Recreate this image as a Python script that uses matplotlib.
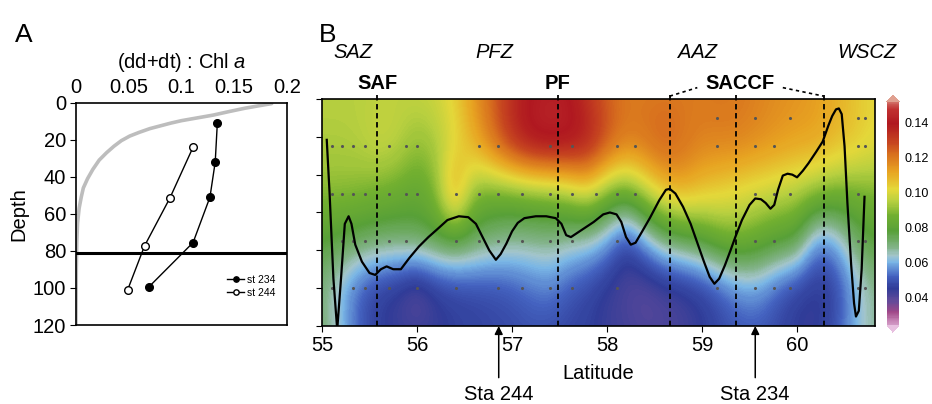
import numpy as np
import matplotlib
matplotlib.use("Agg")
import matplotlib.pyplot as plt
from matplotlib.colors import LinearSegmentedColormap, Normalize

plt.rcParams['font.family'] = ['Liberation Sans', 'DejaVu Sans']
plt.rcParams['mathtext.fontset'] = 'custom'
plt.rcParams['mathtext.rm'] = 'Liberation Sans'
plt.rcParams['mathtext.it'] = 'Liberation Sans:italic'

FS = 14.5

# ---- panel A: (dd+dt):Chl a profiles ----
st234_ratio = [0.134, 0.132, 0.127, 0.111, 0.069]
st234_depth = [11, 32, 51, 75.5, 99.5]
st244_ratio = [0.111, 0.089, 0.065, 0.049]
st244_depth = [24, 51.5, 77.3, 101]
gray_ratio = [0.1855, 0.175, 0.160, 0.145, 0.130, 0.115, 0.100, 0.090, 0.080, 0.070,
              0.060, 0.051, 0.043, 0.036, 0.029, 0.022, 0.016, 0.011, 0.007, 0.005,
              0.003, 0.0015, 0.0008, 0.0003, 0.0]
gray_depth = [0.5, 1.5, 3, 4.8, 6.7, 8.2, 9.7, 11, 12.5, 14,
              16, 18, 20.5, 23.5, 27, 31, 36, 41, 46, 51,
              57, 65, 75, 90, 120]
mixed_depth_a = 81

# ---- panel B: section along latitude ----
grid_lat = [55.0, 55.2, 55.4, 55.6, 55.8, 56.0, 56.2, 56.4, 56.6, 56.8,
            57.0, 57.2, 57.4, 57.6, 57.8, 58.0, 58.2, 58.4, 58.6, 58.8,
            59.0, 59.2, 59.4, 59.6, 59.8, 60.0, 60.2, 60.4, 60.6, 60.8]
grid_depth = [0, 25, 50, 75, 100, 125]
ratio_0 = [0.095, 0.095, 0.095, 0.096, 0.096, 0.097, 0.098, 0.104, 0.114, 0.124,
           0.134, 0.140, 0.142, 0.140, 0.132, 0.124, 0.120, 0.120, 0.120, 0.120,
           0.120, 0.121, 0.120, 0.118, 0.116, 0.115, 0.113, 0.110, 0.106, 0.102]
ratio_25 = [0.094, 0.094, 0.095, 0.098, 0.096, 0.090, 0.093, 0.100, 0.110, 0.122,
            0.135, 0.143, 0.145, 0.144, 0.140, 0.128, 0.120, 0.122, 0.126, 0.122,
            0.118, 0.118, 0.118, 0.116, 0.114, 0.112, 0.112, 0.108, 0.106, 0.102]
ratio_50 = [0.090, 0.090, 0.089, 0.087, 0.085, 0.082, 0.088, 0.118, 0.088, 0.085,
            0.085, 0.087, 0.088, 0.092, 0.100, 0.088, 0.083, 0.095, 0.106, 0.110,
            0.106, 0.103, 0.100, 0.098, 0.096, 0.094, 0.090, 0.087, 0.086, 0.088]
ratio_75 = [0.078, 0.076, 0.074, 0.072, 0.072, 0.074, 0.077, 0.078, 0.074, 0.070,
            0.068, 0.068, 0.069, 0.066, 0.064, 0.058, 0.045, 0.058, 0.070, 0.074,
            0.078, 0.086, 0.088, 0.084, 0.080, 0.078, 0.055, 0.058, 0.072, 0.078]
ratio_100 = [0.070, 0.060, 0.050, 0.045, 0.042, 0.036, 0.043, 0.046, 0.047, 0.048,
             0.050, 0.053, 0.055, 0.050, 0.047, 0.043, 0.041, 0.038, 0.040, 0.042,
             0.045, 0.050, 0.056, 0.057, 0.050, 0.045, 0.043, 0.046, 0.058, 0.068]
ratio_125 = [0.072, 0.062, 0.052, 0.046, 0.045, 0.045, 0.045, 0.046, 0.047, 0.048,
             0.048, 0.049, 0.048, 0.047, 0.046, 0.044, 0.043, 0.042, 0.042, 0.043,
             0.045, 0.048, 0.050, 0.050, 0.048, 0.045, 0.045, 0.050, 0.060, 0.068]

# black line in panel B
line_lat = [55.05, 55.08, 55.12, 55.16, 55.20, 55.24, 55.28, 55.31, 55.35, 55.42,
            55.50, 55.56, 55.62, 55.68, 55.75, 55.83, 55.92, 56.02, 56.12, 56.21,
            56.32, 56.44, 56.54, 56.62, 56.69, 56.76, 56.83, 56.88, 56.94, 57.00,
            57.06, 57.13, 57.25, 57.36, 57.46, 57.52, 57.57, 57.62, 57.71, 57.86,
            57.96, 58.03, 58.10, 58.15, 58.20, 58.25, 58.30, 58.37, 58.45, 58.55,
            58.62, 58.66, 58.72, 58.80, 58.88, 58.95, 59.02, 59.08, 59.13, 59.18,
            59.24, 59.30, 59.35, 59.42, 59.50, 59.56, 59.62, 59.67, 59.72, 59.76,
            59.80, 59.85, 59.90, 59.95, 60.00, 60.06, 60.12, 60.20, 60.27, 60.33,
            60.37, 60.41, 60.44, 60.47, 60.50, 60.53, 60.57, 60.60, 60.62, 60.65,
            60.68, 60.71]
line_depth = [21.6, 50, 95, 122, 95, 66, 62, 66, 77, 86,
              92, 93, 90, 88.5, 90, 90, 84, 78, 73, 69,
              64, 62, 62.5, 66, 73, 80, 85, 82, 76.5, 70,
              65.5, 63, 62, 62, 63, 66, 72, 73, 70, 65,
              61, 60, 61, 65, 73, 77, 76, 70, 63, 53.5,
              48, 47.5, 50, 57, 66, 76, 86, 94, 97.7, 95,
              88, 80, 73, 64, 56, 52.6, 53, 55, 58, 56,
              48, 40.5, 39.5, 40, 41.4, 38, 34, 28, 22.5, 14,
              9, 5.5, 5, 8, 25, 55, 88, 108, 115, 112,
              90, 51.7]

# sample points
dots_10 = [59.16, 59.56, 59.93, 60.64, 60.72]
dots_25 = [55.10, 55.21, 55.33, 55.45, 55.71, 55.88, 56.00, 56.65, 56.85, 57.40,
           57.63, 58.10, 58.29, 59.16, 59.56, 59.76, 60.64, 60.72]
dots_50 = [55.10, 55.21, 55.33, 55.45, 55.71, 55.88, 56.00, 56.41, 56.65, 56.85,
           57.11, 57.40, 57.63, 57.88, 58.10, 58.29, 59.56, 59.76, 59.93, 60.64]
dots_75 = [55.21, 55.33, 55.45, 55.71, 55.88, 56.41, 56.65, 56.85, 57.11, 57.40,
           57.63, 58.10, 59.56, 59.76, 60.64, 60.72]
dots_100 = [55.10, 55.33, 55.45, 55.71, 56.00, 56.41, 56.85, 57.11, 57.40, 57.63,
            58.10, 59.16, 59.56, 59.76, 59.93, 60.64, 60.72]

fronts = [55.58, 57.48, 58.66, 59.36, 60.28]
front_names = ['SAF', 'PF', 'SACCF']
front_label_lat = [55.58, 57.48, 59.40]
zones = ['SAZ', 'PFZ', 'AAZ', 'WSCZ']
zone_lat = [55.33, 56.81, 58.95, 60.73]
stations = ['Sta 244', 'Sta 234']
station_lat = [56.86, 59.56]

# colour scale
cb_vals = [0.020, 0.026, 0.031, 0.038, 0.045, 0.052, 0.060, 0.064, 0.068, 0.078,
           0.087, 0.095, 0.102, 0.112, 0.122, 0.130, 0.140, 0.148, 0.156]
cb_cols = ['#e8c0e0', '#c888b8', '#a04888', '#604a9a', '#303c98', '#4462c0', '#7ab6e6',
           '#a4c6cc', '#84b48c', '#58a038', '#72b030', '#b8d040', '#e4d83a', '#e8a422',
           '#d8701e', '#c44020', '#b01820', '#c03030', '#e0a090']
vmin, vmax = 0.024, 0.152
span = cb_vals[-1] - cb_vals[0]
base = LinearSegmentedColormap.from_list(
    'chl', [((v - cb_vals[0]) / span, c) for v, c in zip(cb_vals, cb_cols)])
cmap = LinearSegmentedColormap.from_list(
    'chl2', [base((v - cb_vals[0]) / span) for v in np.linspace(vmin, vmax, 256)])
cmap.set_under(base(0.0))
cmap.set_over(base(1.0))
norm = Normalize(vmin=vmin, vmax=vmax)

fig = plt.figure(figsize=(9.32, 4.04), dpi=100)

# ---------------- panel A ----------------
axA = fig.add_axes([0.0815, 0.1955, 0.2264, 0.5503])
axA.plot(gray_ratio, gray_depth, color='#bdbdbd', lw=2.6, zorder=1,
         solid_capstyle='round')
axA.axhline(mixed_depth_a, color='black', lw=2.2, zorder=2)
axA.plot(st234_ratio, st234_depth, '-o', color='black', mfc='black', mec='black',
         ms=5.5, lw=1, label='st 234', zorder=3)
axA.plot(st244_ratio, st244_depth, '-o', color='black', mfc='white', mec='black',
         ms=5.5, lw=1, label='st 244', zorder=3)
axA.set_xlim(0, 0.2)
axA.set_ylim(120, 0)
axA.xaxis.tick_top()
axA.xaxis.set_label_position('top')
axA.set_xticks([0, 0.05, 0.1, 0.15, 0.2])
axA.set_xticklabels(['0', '0.05', '0.1', '0.15', '0.2'])
axA.set_yticks([0, 20, 40, 60, 80, 100, 120])
axA.tick_params(axis='x', length=0, labelsize=FS, pad=4)
axA.tick_params(axis='y', direction='out', length=4, labelsize=FS, pad=3)
axA.set_xlabel('(dd+dt) : Chl $\\it{a}$', fontsize=FS, labelpad=7)
axA.set_ylabel('Depth', fontsize=FS, labelpad=3)
for s in axA.spines.values():
    s.set_linewidth(1.2)
axA.legend(loc='lower right', bbox_to_anchor=(0.99, 0.08), fontsize=7.5, frameon=False,
           handlelength=1.6, handletextpad=0.3, labelspacing=0.3, markerscale=0.7)

# ---------------- panel B ----------------
axB = fig.add_axes([0.3455, 0.1931, 0.5933, 0.5619])
field = np.array([ratio_0, ratio_25, ratio_50, ratio_75, ratio_100, ratio_125])
dlat = grid_lat[1] - grid_lat[0]
ddep = grid_depth[1] - grid_depth[0]
im = axB.imshow(field, cmap=cmap, norm=norm, aspect='auto',
                interpolation='bicubic', interpolation_stage='data',
                extent=[grid_lat[0] - dlat / 2, grid_lat[-1] + dlat / 2,
                        grid_depth[-1] + ddep / 2, grid_depth[0] - ddep / 2])
for dep, lats in zip([10, 25, 50, 75, 100], [dots_10, dots_25, dots_50, dots_75, dots_100]):
    axB.scatter(lats, [dep] * len(lats), s=1.5, color='#555555', zorder=2)
axB.plot(line_lat, line_depth, color='black', lw=1.6, zorder=4)
for f in fronts:
    axB.plot([f, f], [-2, 120], color='black', ls=(0, (3, 2)), lw=1.3,
             clip_on=False, zorder=5)
# SACCF bracket
axB.plot([fronts[2], 58.95], [-1.5, -6], color='black', ls=(0, (2, 2)), lw=1.2,
         clip_on=False)
axB.plot([59.85, fronts[4]], [-6, -1.5], color='black', ls=(0, (2, 2)), lw=1.2,
         clip_on=False)
for name, lat in zip(front_names, front_label_lat):
    axB.text(lat, 1.07, name, transform=axB.get_xaxis_transform(), ha='center',
             va='center', fontsize=FS, fontweight='bold')
for name, lat in zip(zones, zone_lat):
    axB.text(lat, 1.205, name, transform=axB.get_xaxis_transform(), ha='center',
             va='center', fontsize=FS, style='italic')
for name, lat in zip(stations, station_lat):
    axB.annotate(name, xy=(lat, 120), xycoords='data',
                 xytext=(lat, -0.30), textcoords=axB.get_xaxis_transform(),
                 ha='center', va='center', fontsize=FS,
                 arrowprops=dict(arrowstyle='-|>', color='black', lw=1.1,
                                 mutation_scale=12, shrinkA=3, shrinkB=0))
axB.set_xlim(55, 60.82)
axB.set_ylim(120, 0)
axB.set_xticks([55, 56, 57, 58, 59, 60])
axB.set_yticks([0, 20, 40, 60, 80, 100, 120])
axB.set_yticklabels([])
axB.tick_params(axis='both', direction='out', length=4, labelsize=FS)
axB.set_xlabel('Latitude', fontsize=FS, labelpad=6)
for s in axB.spines.values():
    s.set_linewidth(1.2)
    s.set_zorder(6)

# colour bar
cax = fig.add_axes([0.9517, 0.178, 0.0129, 0.5866])
cb = fig.colorbar(im, cax=cax, extend='both', extendfrac=0.03)
cb.outline.set_visible(False)
cb.set_ticks([0.04, 0.06, 0.08, 0.10, 0.12, 0.14])
cb.set_ticklabels(['0.04', '0.06', '0.08', '0.10', '0.12', '0.14'])
cax.tick_params(length=0, labelsize=9, pad=4)

fig.text(0.026, 0.913, 'A', fontsize=19, ha='center', va='center')
fig.text(0.352, 0.913, 'B', fontsize=19, ha='center', va='center')

fig.savefig('out.png', dpi=100)
